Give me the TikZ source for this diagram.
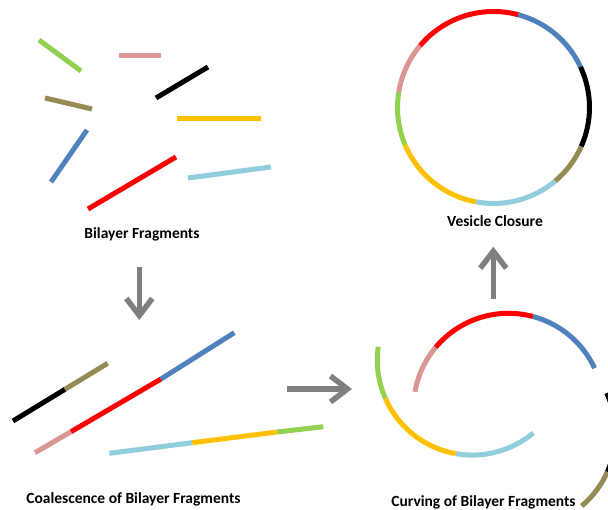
\documentclass[tikz,border=0pt]{standalone}
\usepackage{fontspec}
\setmainfont{Carlito}
\usetikzlibrary{arrows.meta}

\definecolor{fragGreen}{HTML}{92D050}
\definecolor{fragPink}{HTML}{D99694}
\definecolor{fragOlive}{HTML}{948A54}
\definecolor{fragYellow}{HTML}{FFC000}
\definecolor{fragBlue}{HTML}{4F81BD}
\definecolor{fragRed}{HTML}{FF0000}
\definecolor{fragLightBlue}{HTML}{92CDDC}
\definecolor{arrowGray}{HTML}{7F7F7F}

\begin{document}
\begin{tikzpicture}[x=1pt, y=1pt,
  frag/.style={line width=5pt},
  caption/.style={font=\fontsize{15.5}{18}\selectfont\bfseries, inner sep=0pt, anchor=base},
  stagearrow/.style={draw=arrowGray, line width=5.5pt, -{Straight Barb[length=17pt,width=26pt]}}]
  \useasboundingbox (0,0) rectangle (608,510);
  \clip (0,0) rectangle (608,510);

  % loose fragments
  \draw[frag, fragGreen] (39,470) -- (81,439);
  \draw[frag, fragPink] (119,454) -- (161,454);
  \draw[frag, black] (156,412) -- (208,443);
  \draw[frag, fragOlive] (45,412) -- (92,401);
  \draw[frag, fragYellow] (177,391) -- (261,391);
  \draw[frag, fragBlue] (51,328) -- (87,380);
  \draw[frag, fragRed] (88,301) -- (176,353);
  \draw[frag, fragLightBlue] (188,332) -- (271,343);
  \node[caption] (lblfrag) at (142,271.7) {Bilayer Fragments};

  % coalescence
  \draw[frag, black] (13,89) -- (65,120.7);
  \draw[frag, fragOlive] (65,120.7) -- (107.7,146.7);
  \draw[frag, fragPink] (35,57.3) -- (71,78.3);
  \draw[frag, fragRed] (71,78.3) -- (161,131);
  \draw[frag, fragBlue] (161,131) -- (234.3,177.3);
  \draw[frag, fragLightBlue] (109.3,56.7) -- (192.3,67.3);
  \draw[frag, fragYellow] (192.3,67.3) -- (277.3,78);
  \draw[frag, fragGreen] (277.3,78) -- (323.3,83.3);
  \node[caption] (lblcoal) at (133.5,6) {Coalescence of Bilayer Fragments};

  % curving
  \coordinate (curvA) at (508.5,101.7);
  \coordinate (curvB) at (472.3,149.9);
  \coordinate (curvC) at (520.6,76.8);
  \foreach \col/\from/\to in {fragPink/170/140, fragRed/140/75, fragBlue/75/25}
    \draw[frag, \col] (curvA) ++(\from:95) arc[start angle=\from, end angle=\to, radius=95];
  \foreach \col/\from/\to in {fragGreen/172/204, fragYellow/204/260, fragLightBlue/260/310}
    \draw[frag, \col] (curvB) ++(\from:95) arc[start angle=\from, end angle=\to, radius=95];
  \foreach \col/\from/\to in {fragOlive/-50/-24, black/-24/25}
    \draw[frag, \col] (curvC) ++(\from:95) arc[start angle=\from, end angle=\to, radius=95];
  \node[caption] (lblcurv) at (483.5,3.3) {Curving of Bilayer Fragments};

  % vesicle
  \coordinate (ves) at (493.5,402.5);
  \foreach \col/\from/\to in {fragRed/75/140, fragBlue/25/75, black/-24/25, fragOlive/-50/-24,
      fragLightBlue/-100.5/-50, fragYellow/-157/-100.5, fragGreen/-189.4/-157, fragPink/-220/-189.4}
    \draw[frag, \col] (ves) ++(\from:96) arc[start angle=\from, end angle=\to, radius=96];
  \node[caption] (lblves) at (495,283.3) {Vesicle Closure};

  % stage arrows
  \coordinate (dnStart) at (139.3,243);
  \coordinate (dnEnd) at (139.3,190);
  \coordinate (rtStart) at (287,121);
  \coordinate (rtEnd) at (352,121);
  \coordinate (upStart) at (493.3,211);
  \coordinate (upEnd) at (493.3,263.3);
  \draw[stagearrow] (dnStart) -- (dnEnd);
  \draw[stagearrow] (rtStart) -- (rtEnd);
  \draw[stagearrow] (upStart) -- (upEnd);
\end{tikzpicture}
\end{document}
